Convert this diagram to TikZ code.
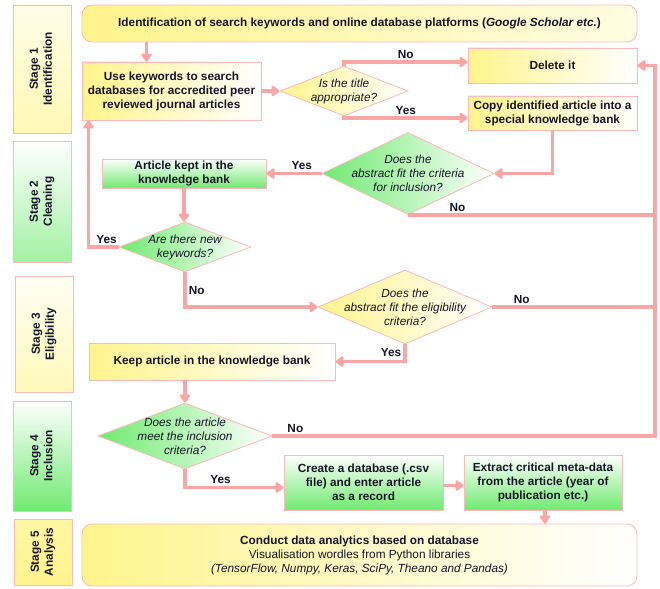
\documentclass[tikz,border=0pt]{standalone}
\usepackage{fontspec}
\setmainfont{Liberation Sans}
\usepackage{graphicx}
\usetikzlibrary{shapes.geometric,arrows.meta}
\definecolor{flowpink}{RGB}{249,166,166}
\definecolor{edgepink}{RGB}{250,186,186}
\definecolor{paleyel}{RGB}{255,244,140}
\definecolor{palegrn}{RGB}{112,234,112}
\definecolor{inkc}{RGB}{22,22,40}
\newcommand{\fsz}{\fontsize{11.8}{14}\selectfont}
\newcommand{\stagetxt}[2]{\rotatebox{90}{\begin{tabular}{@{}c@{}}#1\\#2\end{tabular}}}
\tikzset{
	flow/.style={line width=3.5pt,draw=flowpink,-{Triangle[length=9pt,width=12pt,round]}},
	rail/.style={line width=3.5pt,draw=flowpink},
	box/.style={draw=edgepink,line width=0.8pt,inner sep=2pt,align=center,font=\bfseries\fsz,text=inkc},
	ybox/.style={box,left color=paleyel,right color=white},
	gbox/.style={box,top color=white,bottom color=palegrn},
	stagebox/.style={box,minimum width=58pt},
	decision/.style={diamond,draw=edgepink,line width=0.8pt,inner sep=0pt},
	dtext/.style={align=center,font=\itshape\fsz,text=inkc},
	answer/.style={font=\bfseries\fsz,text=inkc,inner sep=2pt}
}
\begin{document}
\begin{tikzpicture}[x=1pt,y=-1pt]
	\useasboundingbox (0,0) rectangle (660,588);
	% stages
	\node[stagebox,top color=paleyel!20!white,bottom color=paleyel!65!white,minimum height=128pt] (st1) at (42,69) {\stagetxt{Stage 1}{Identification}};
	\node[stagebox,top color=white,bottom color=palegrn!65!white,minimum height=121pt] (st2) at (42,201.5) {\stagetxt{Stage 2}{Cleaning}};
	\node[stagebox,top color=paleyel!10!white,bottom color=paleyel!60!white,minimum height=116pt] (st3) at (44,334) {\stagetxt{Stage 3}{Eligibility}};
	\node[stagebox,top color=white,bottom color=palegrn,minimum height=110pt] (st4) at (42.5,456) {\stagetxt{Stage 4}{Inclusion}};
	\node[stagebox,top color=paleyel!80!white,bottom color=paleyel,minimum height=66pt] (st5) at (43,552) {\stagetxt{Stage 5}{Analysis}};
	% boxes
	\node[ybox,right color=paleyel!25!white,rounded corners=10pt,minimum width=555pt,minimum height=37pt] (top) at (359.5,23.5) {Identification of search keywords and online database platforms (\textit{Google Scholar etc.})};
	\node[ybox,minimum width=179pt,minimum height=58pt] (srch) at (171.5,91) {Use keywords to search\\databases for accredited peer\\reviewed journal articles};
	\node[ybox,minimum width=169pt,minimum height=35pt] (delete) at (552.5,65.5) {Delete it};
	\node[ybox,minimum width=169pt,minimum height=34pt] (copy) at (552.5,113) {Copy identified article into a\\special knowledge bank};
	\node[gbox,minimum width=164pt,minimum height=29pt] (kept) at (184,173.5) {Article kept in the\\knowledge bank};
	\node[ybox,minimum width=246pt,minimum height=37pt] (keep) at (212,361.5) {Keep article in the knowledge bank};
	\node[gbox,minimum width=159pt,minimum height=55pt] (create) at (363.5,482.5) {Create a database (.csv\\file) and enter article\\as a record};
	\node[gbox,minimum width=158pt,minimum height=55pt] (extract) at (543,482.5) {Extract critical meta-data\\from the article (year of\\publication etc.)};
	\node[ybox,font=\fsz,rounded corners=10pt,minimum width=555pt,minimum height=62pt] (analysis) at (359.5,555) {\textbf{Conduct data analytics based on database}\\Visualisation wordles from Python libraries\\\textit{(TensorFlow, Numpy, Keras, SciPy, Theano and Pandas)}};
	% decisions
	\node[decision,left color=paleyel,right color=white,minimum width=128pt,minimum height=50pt] (dtitle) at (344,91) {};
	\node[dtext] at (dtitle) {Is the title\\appropriate?};
	\node[decision,left color=palegrn,right color=white,minimum width=172pt,minimum height=82pt] (dincl) at (408,173.5) {};
	\node[dtext] at (dincl) {Does the\\abstract fit the criteria\\for inclusion?};
	\node[decision,left color=palegrn,right color=white,minimum width=132pt,minimum height=50pt] (dkey) at (185,247) {};
	\node[dtext] at (dkey) {Are there new\\keywords?};
	\node[decision,left color=paleyel,right color=white,minimum width=174pt,minimum height=74pt] (delig) at (405,307) {};
	\node[dtext] at (delig) {Does the\\abstract fit the eligibility\\criteria?};
	\node[decision,left color=palegrn,right color=white,minimum width=174pt,minimum height=66pt] (dmeet) at (185,436) {};
	\node[dtext] at (dmeet) {Does the article\\meet the inclusion\\criteria?};
	\coordinate (rail) at (655,0); % right return line
	\coordinate (srchin) at ([xshift=-25pt]srch.north);
	% connectors
	\draw[flow] (top.south -| srchin) -- (srchin);
	\draw[flow] (srch.east) -- (dtitle.west);
	\draw[flow] (dtitle.north) |- node[answer,pos=0.75,above]{No} ([yshift=3.5pt]delete.west);
	\draw[flow] (dtitle.south) |- node[answer,pos=0.75,above]{Yes} ([yshift=-5pt]copy.west);
	\draw[flow] (copy.south) |- (dincl.east);
	\draw[flow] (dincl.west) -- node[answer,pos=0.36,above]{Yes} (kept.east);
	\draw[rail] (dincl.south) -- node[answer,pos=0.2,above]{No} (dincl.south -| rail);
	\draw[flow] (kept.south) -- (kept.south |- dkey.north);
	\draw[flow] (dkey.west) -| node[answer,pos=0.2,above]{Yes} ([xshift=7pt]srch.south west);
	\draw[flow] (dkey.south) |- node[answer,pos=0.26,right]{No} (delig.west);
	\draw[rail] (delig.east) -- node[answer,pos=0.18,above]{No} (delig.east -| rail);
	\draw[flow] (delig.south) |- node[answer,pos=0.25,left]{Yes} (keep.east);
	\draw[flow] (keep.south -| dmeet.north) -- (dmeet.north);
	\draw[flow] (dmeet.east) -- node[answer,pos=0.06,above]{No} (dmeet.east -| rail) |- (delete.east);
	\draw[flow] (dmeet.south) |- node[answer,pos=0.68,above]{Yes} ([yshift=-5pt]create.west);
	\draw[flow] ([yshift=-3pt]create.east) -- ([yshift=-3pt]create.east -| extract.west);
	\draw[flow] (extract.south -| 545,0) -- (analysis.north -| 545,0);
\end{tikzpicture}
\end{document}
